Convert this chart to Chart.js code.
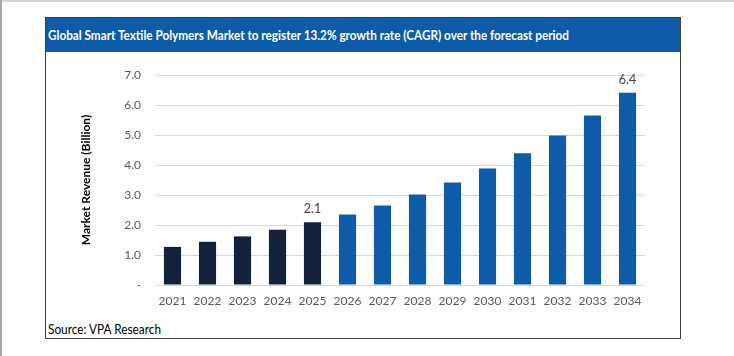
<!DOCTYPE html>
<html>
<head>
<meta charset="utf-8">
<script src="https://cdn.jsdelivr.net/npm/chart.js@4.4.1/dist/chart.umd.min.js"></script>
<style>
  html, body { margin: 0; padding: 0; background: #fff; }
  body { width: 734px; height: 356px; position: relative; overflow: hidden; font-family: Lato, "Open Sans", sans-serif; }
  #pageTop { position: absolute; left: 0; top: 0; width: 734px; height: 2px; background: #d6d6d6; }
  #pageLeft { position: absolute; left: 0; top: 0; width: 2px; height: 356px; background: #a6a6a6; }
  #frame { position: absolute; left: 45px; top: 17px; width: 634px; height: 320px; border: 1px solid #3f3f3f; }
  #titleBar { position: absolute; left: 0; top: 0; width: 634px; height: 34px; background: #0e5ca8; }
  #titleText { position: absolute; left: 2px; top: 0; height: 34px; line-height: 34px; color: #fff; font-weight: bold; font-size: 13px; white-space: nowrap; transform-origin: left center; }
  #source { position: absolute; left: 2px; top: 304px; font-size: 12.5px; color: #000; white-space: nowrap; transform-origin: left center; }
  #wrap { position: absolute; left: 0; top: 34px; width: 634px; height: 270px; }
</style>
</head>
<body>
<div id="pageTop"></div>
<div id="pageLeft"></div>
<div id="frame">
  <div id="titleBar"><div id="titleText"></div></div>
  <div id="wrap"><canvas id="c"></canvas></div>
  <div id="source"></div>
</div>
<script>
const chartTitle = "Global Smart Textile Polymers Market to register 13.2% growth rate (CAGR) over the forecast period";
const sourceText = "Source: VPA Research";
const yAxisTitle = "Market Revenue (Billion)";
const years = ["2021","2022","2023","2024","2025","2026","2027","2028","2029","2030","2031","2032","2033","2034"];
const revenue = [1.27, 1.44, 1.62, 1.84, 2.09, 2.35, 2.65, 3.02, 3.42, 3.88, 4.39, 4.98, 5.65, 6.41];
const valueLabels = [null, null, null, null, "2.1", null, null, null, null, null, null, null, null, "6.4"];
const yTickLabels = ["-", "1.0", "2.0", "3.0", "4.0", "5.0", "6.0", "7.0"];
const lastActualYear = "2025";

document.getElementById('titleText').textContent = chartTitle;
document.getElementById('source').textContent = sourceText;

function fitWidth(id, w) {
  const el = document.getElementById(id);
  const cw = el.getBoundingClientRect().width;
  if (cw > 0) el.style.transform = 'scaleX(' + (w / cw) + ')';
}
fitWidth('titleText', 521);
fitWidth('source', 113);

const barColors = years.map(y => (+y <= +lastActualYear) ? '#13213b' : '#0e5ca8');

const valueLabelPlugin = {
  id: 'valueLabels',
  afterDatasetsDraw(chart) {
    const ctx = chart.ctx;
    const meta = chart.getDatasetMeta(0);
    ctx.save();
    ctx.font = '12.5px Lato, sans-serif';
    ctx.fillStyle = '#404040';
    ctx.textAlign = 'center';
    ctx.textBaseline = 'middle';
    meta.data.forEach((bar, i) => {
      if (valueLabels[i]) ctx.fillText(valueLabels[i], bar.x, bar.y - 13);
    });
    ctx.restore();
  }
};

new Chart(document.getElementById('c'), {
  type: 'bar',
  data: {
    labels: years,
    datasets: [{
      data: revenue,
      backgroundColor: barColors,
      borderColor: barColors,
      borderWidth: 0,
      categoryPercentage: 1,
      barPercentage: 0.49
    }]
  },
  options: {
    responsive: true,
    maintainAspectRatio: false,
    animation: false,
    layout: { padding: { left: 0, right: 35, top: 23, bottom: 0 } },
    plugins: { legend: { display: false }, tooltip: { enabled: false } },
    scales: {
      x: {
        grid: { display: false, drawTicks: false },
        border: { display: false },
        ticks: { color: '#595959', font: { family: 'Lato', size: 12 }, padding: 9, maxRotation: 0 },
        afterFit(s) { s.height = 37; }
      },
      y: {
        min: 0, max: 7,
        grid: { color: '#d9d9d9', lineWidth: 1, drawTicks: false },
        border: { display: false },
        ticks: {
          stepSize: 1,
          color: '#595959',
          font: { family: 'Lato', size: 12 },
          padding: 14,
          callback: (v, i) => yTickLabels[i]
        },
        title: {
          display: true,
          text: yAxisTitle,
          color: '#000',
          font: { family: 'Lato', size: 12, weight: 'bold' },
          padding: { top: 33, bottom: 0 }
        },
        afterFit(s) { s.width = 109; }
      }
    }
  },
  plugins: [valueLabelPlugin]
});
</script>
</body>
</html>
